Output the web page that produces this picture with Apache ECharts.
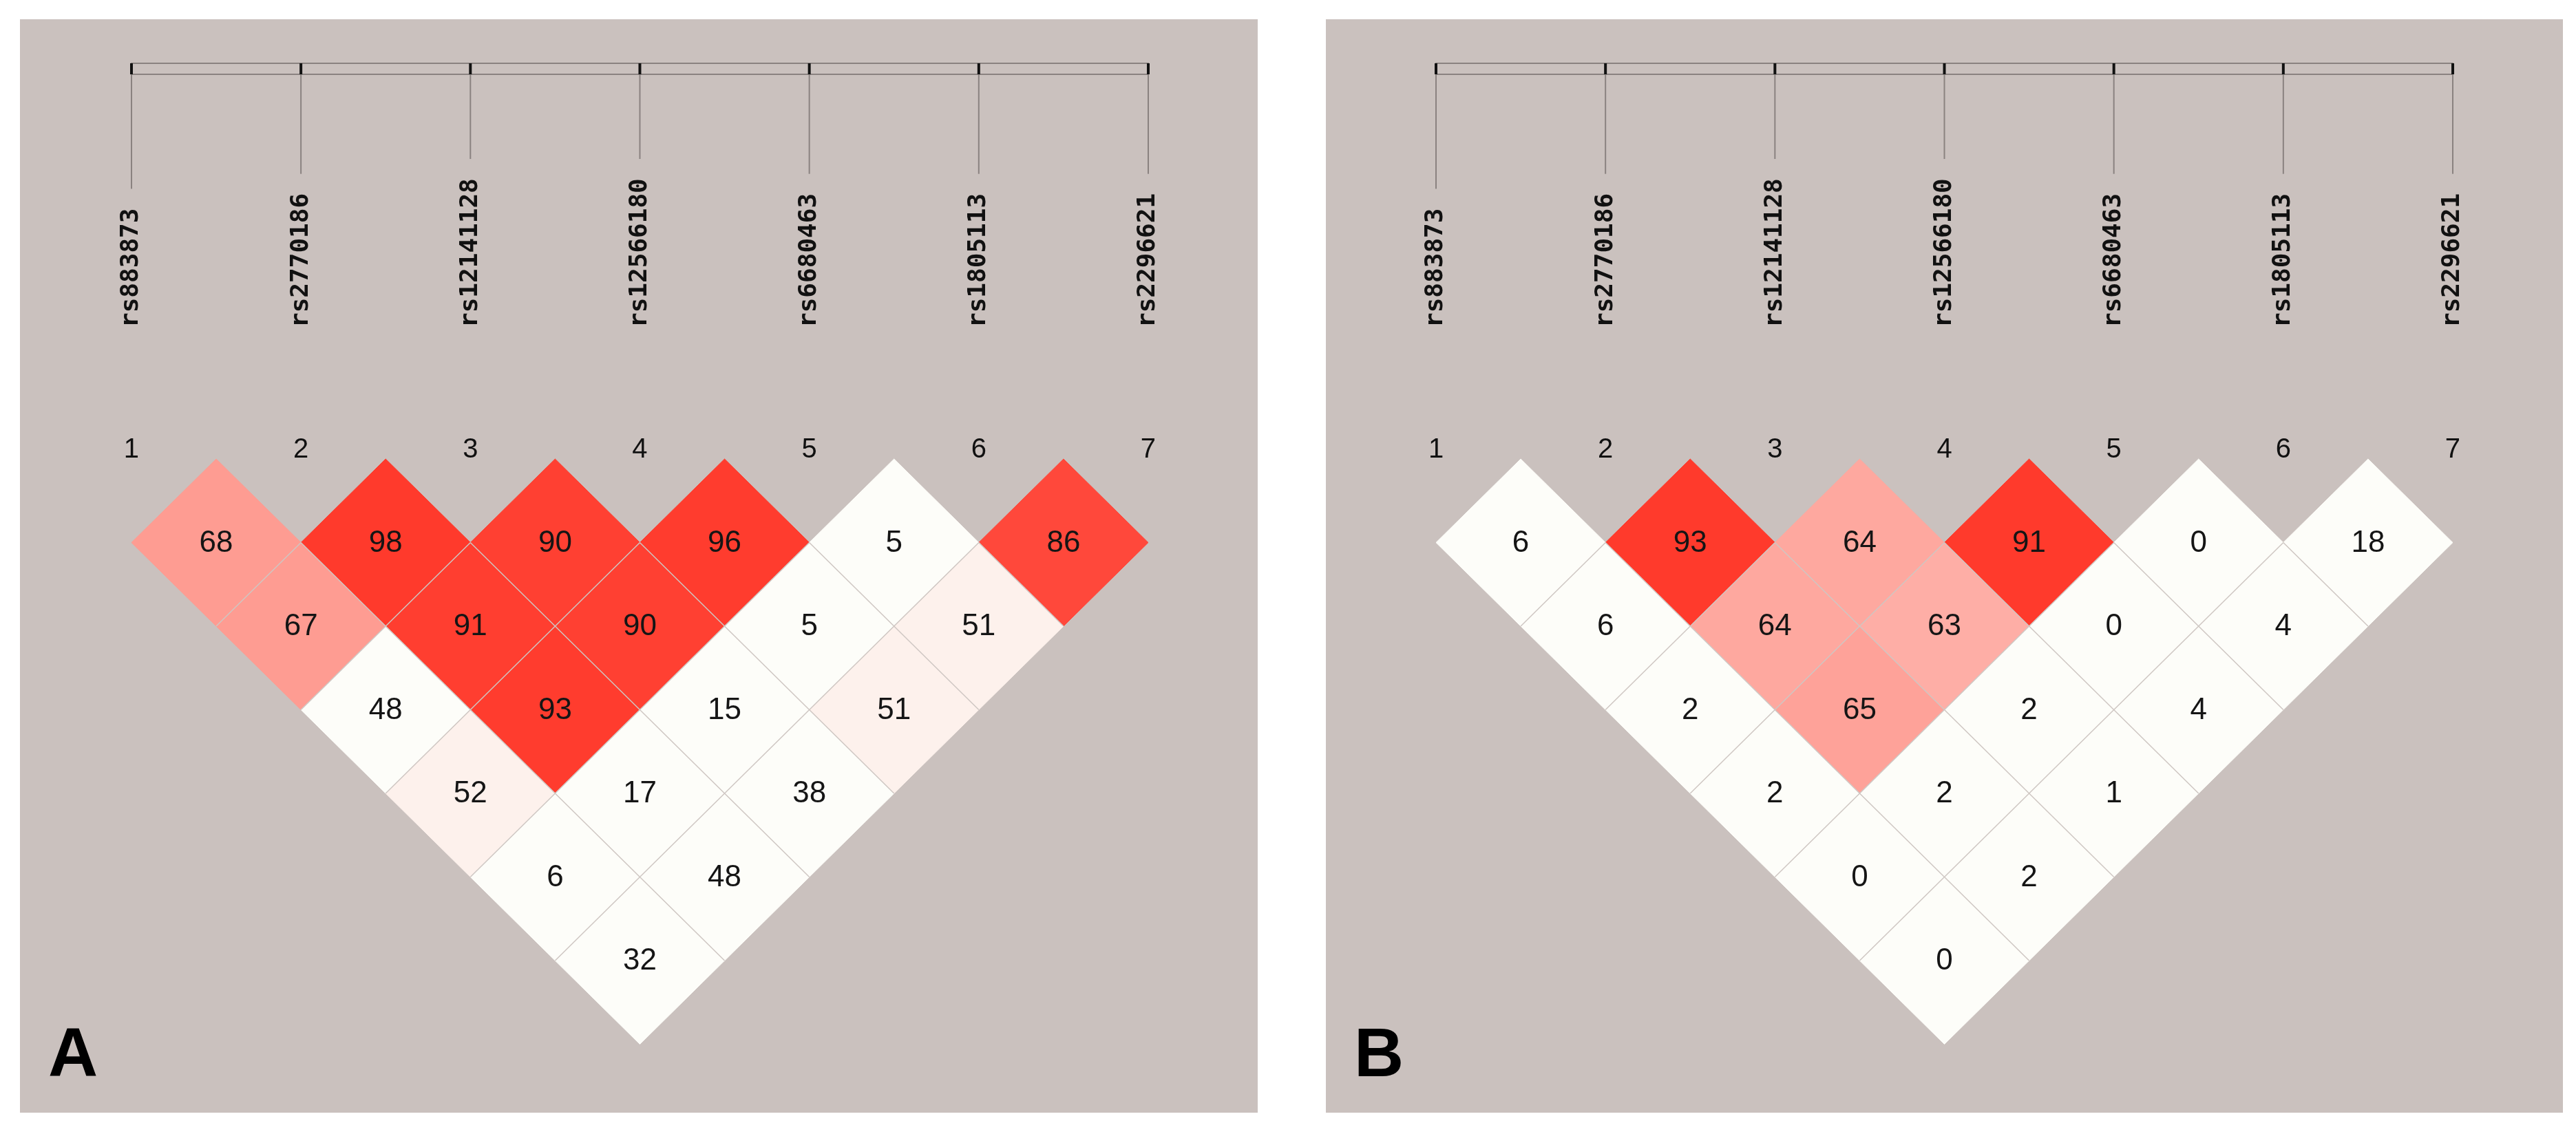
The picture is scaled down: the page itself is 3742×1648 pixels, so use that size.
<!DOCTYPE html>
<html>
<head>
<meta charset="utf-8">
<title>LD plot</title>
<script src="https://cdn.jsdelivr.net/npm/echarts@6/dist/echarts.min.js"></script>
<style>
  html, body { margin: 0; padding: 0; background: #fff; }
  #container { width: 3742px; height: 1648px; }
</style>
</head>
<body>
<div id="container"></div>
<script>
var snps = ['rs883873', 'rs2770186', 'rs12141128', 'rs12566180', 'rs6680463', 'rs1805113', 'rs2296621'];
var markerNums = [1, 2, 3, 4, 5, 6, 7];
var panelNames = ['A', 'B'];

// D' x100, one row per marker distance: (1,2),(2,3)..  then (1,3),(2,4)..
var dPrimeA = [
    [68, 98, 90, 96, 5, 86],
    [67, 91, 90, 5, 51],
    [48, 93, 15, 51],
    [52, 17, 38],
    [6, 48],
    [32]
];
// red shading of each cell, 0 = white, 1 = full red
var shadeA = [
    [0.48, 0.96, 0.93, 0.95, 0, 0.89],
    [0.48, 0.94, 0.93, 0, 0.06],
    [0, 0.95, 0, 0.06],
    [0.06, 0, 0],
    [0, 0],
    [0]
];
var dPrimeB = [
    [6, 93, 64, 91, 0, 18],
    [6, 64, 63, 0, 4],
    [2, 65, 2, 4],
    [2, 2, 1],
    [0, 2],
    [0]
];
var shadeB = [
    [0, 0.96, 0.42, 0.96, 0, 0],
    [0, 0.42, 0.39, 0, 0],
    [0, 0.45, 0, 0],
    [0, 0, 0],
    [0, 0],
    [0]
];

var dom = document.getElementById('container');
var myChart = echarts.init(dom);
var n = snps.length;

function buildCells(vals, shades) {
    var out = [];
    for (var r = 0; r < vals.length; r++) {
        for (var k = 0; k < vals[r].length; k++) {
            out.push([k + 1, k + r + 2, vals[r][k], shades[r][k]]);
        }
    }
    return out;
}

function shadeColor(t) {
    var w = [253, 253, 249], red = [255, 50, 35];
    var c = w.map(function (v, i) { return Math.round(v + (red[i] - v) * t); });
    return 'rgb(' + c.join(',') + ')';
}

var cellFont = '44px "Liberation Sans", Arial, sans-serif';
var labelFont = 'bold 36px "DejaVu Sans Mono", "Liberation Mono", monospace';
var lineColor = '#8a8280';

function renderCell(params, api) {
    var i = api.value(0), j = api.value(1);
    var cx = (i + j) / 2, d = j - i;
    var top = api.coord([cx, d - 1]);
    var right = api.coord([cx + 0.5, d]);
    var bottom = api.coord([cx, d + 1]);
    var left = api.coord([cx - 0.5, d]);
    var mid = api.coord([cx, d]);
    var kids = [{
        type: 'polygon',
        z2: 1,
        shape: { points: [top, right, bottom, left] },
        style: { fill: shadeColor(api.value(3)), stroke: shadeColor(api.value(3)), lineWidth: 1 }
    }];
    // inner edges only, so the outer outline stays clean
    if (i > 1) {
        kids.push({ type: 'line', z2: 5, shape: { x1: left[0], y1: left[1], x2: bottom[0], y2: bottom[1] },
            style: { stroke: '#cfc7c3', lineWidth: 1.5 } });
    }
    if (j < n) {
        kids.push({ type: 'line', z2: 5, shape: { x1: right[0], y1: right[1], x2: bottom[0], y2: bottom[1] },
            style: { stroke: '#cfc7c3', lineWidth: 1.5 } });
    }
    kids.push({
        type: 'text', z2: 10, x: mid[0], y: mid[1] + 1,
        style: { text: String(api.value(2)), fill: '#151515', font: cellFont, align: 'center', verticalAlign: 'middle' }
    });
    return { type: 'group', children: kids };
}

function renderMarker(params, api) {
    var x = api.value(0);
    var name = snps[params.dataIndex];
    var base = api.coord([x, 0]);
    var px = base[0], y0 = base[1];
    var barTop = y0 - 575, barBottom = y0 - 559;
    var labelBase = y0 - 191;
    var labelTop = labelBase - name.length * 21.7;
    var kids = [];
    if (params.dataIndex === 0) {
        var x1 = api.coord([1, 0])[0], x7 = api.coord([n, 0])[0];
        kids.push({ type: 'rect', shape: { x: x1, y: barTop, width: x7 - x1, height: barBottom - barTop },
            style: { fill: 'none', stroke: lineColor, lineWidth: 2 } });
    }
    kids.push({ type: 'line', shape: { x1: px, y1: barTop, x2: px, y2: barBottom },
        style: { stroke: '#111', lineWidth: 4 } });
    kids.push({ type: 'line', shape: { x1: px, y1: barBottom, x2: px, y2: labelTop - 28 },
        style: { stroke: lineColor, lineWidth: 2 } });
    kids.push({
        type: 'text', x: px, y: labelBase, rotation: Math.PI / 2,
        style: { text: name, fill: '#111', font: labelFont, align: 'left', verticalAlign: 'middle' }
    });
    kids.push({
        type: 'text', x: px, y: y0 - 13,
        style: { text: String(markerNums[params.dataIndex]), fill: '#111',
            font: '40px "Liberation Sans", Arial, sans-serif', align: 'center', verticalAlign: 'middle' }
    });
    return { type: 'group', children: kids };
}

var panels = [
    { left: 29, width: 1798, min: 0.342, max: 7.646, vals: dPrimeA, shades: shadeA },
    { left: 1926, width: 1797, min: 0.35, max: 7.65, vals: dPrimeB, shades: shadeB }
];

var option = {
    animation: false,
    backgroundColor: '#fff',
    grid: [],
    xAxis: [],
    yAxis: [],
    series: [],
    graphic: []
};

panels.forEach(function (p, k) {
    option.grid.push({ left: p.left, top: 28, width: p.width, height: 1589, show: true,
        backgroundColor: '#cac1be', borderWidth: 0 });
    option.xAxis.push({ type: 'value', gridIndex: k, min: p.min, max: p.max, show: false });
    option.yAxis.push({ type: 'value', gridIndex: k, min: -5.259, max: 7.819, inverse: true, show: false });
    option.series.push({
        type: 'custom', name: 'LD ' + panelNames[k], xAxisIndex: k, yAxisIndex: k,
        renderItem: renderCell, data: buildCells(p.vals, p.shades)
    });
    option.series.push({
        type: 'custom', name: 'markers ' + panelNames[k], xAxisIndex: k, yAxisIndex: k,
        renderItem: renderMarker, data: markerNums.map(function (m) { return [m, 0]; })
    });
    option.graphic.push({
        type: 'text', left: p.left + 41, top: 1486,
        style: { text: panelNames[k], fill: '#000', font: 'bold 100px "Liberation Sans", Arial, sans-serif' }
    });
});

myChart.setOption(option, true);
</script>
</body>
</html>
